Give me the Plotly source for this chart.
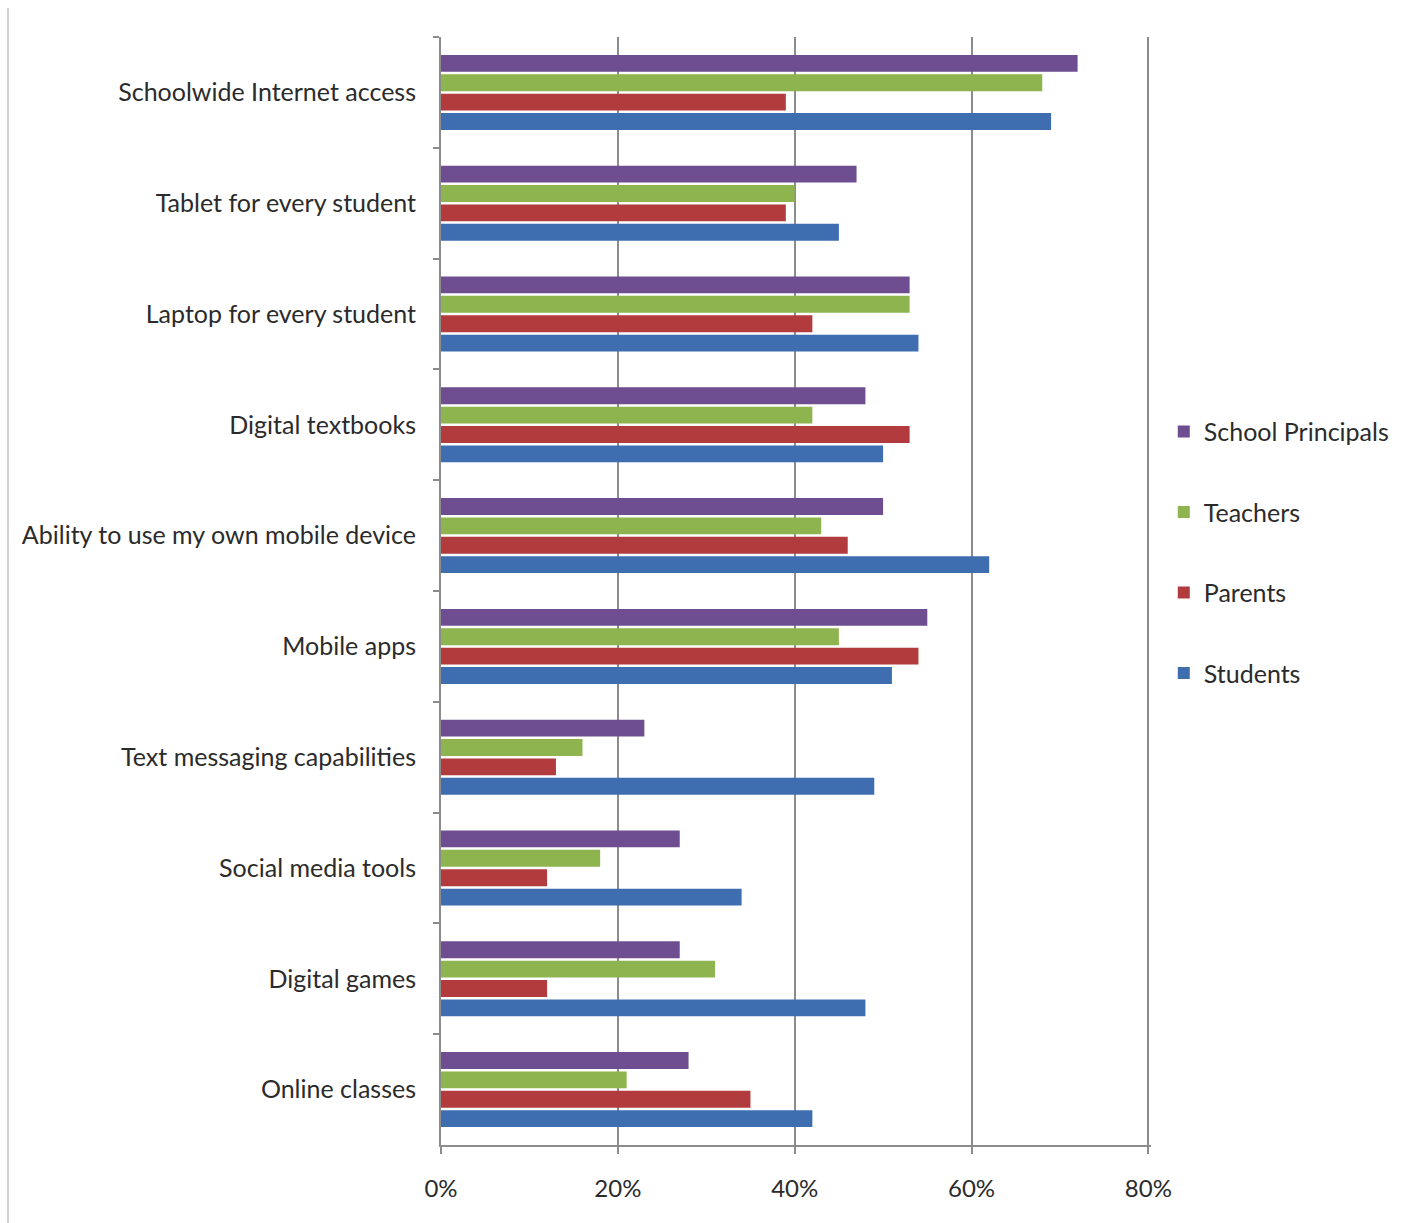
import plotly.graph_objects as go

categories = [
    "Schoolwide Internet access",
    "Tablet for every student",
    "Laptop for every student",
    "Digital textbooks",
    "Ability to use my own mobile device",
    "Mobile apps",
    "Text messaging capabilities",
    "Social media tools",
    "Digital games",
    "Online classes",
]

principals = [72, 47, 53, 48, 50, 55, 23, 27, 27, 28]
teachers = [68, 40, 53, 42, 43, 45, 16, 18, 31, 21]
parents = [39, 39, 42, 53, 46, 54, 13, 12, 12, 35]
students = [69, 45, 54, 50, 62, 51, 49, 34, 48, 42]

series_names = ["School Principals", "Teachers", "Parents", "Students"]
series_values = [principals, teachers, parents, students]
colors = ["#6E4E90", "#8DB44E", "#B23B3E", "#3E6EB0"]

FONT = "Lato"
TEXT = "#2b2b2b"

fig = go.Figure()
for name, vals, col in zip(series_names, series_values, colors):
    fig.add_trace(go.Bar(
        name=name,
        y=categories,
        x=[v / 100 for v in vals],
        orientation="h",
        marker=dict(color=col, line=dict(width=0)),
        legendgroup=name,
    ))

fig.update_layout(
    width=1408,
    height=1223,
    margin=dict(l=441, r=257, t=37, b=78, autoexpand=False),
    paper_bgcolor="white",
    plot_bgcolor="white",
    barmode="group",
    bargap=0.3,
    bargroupgap=0.13,
    font=dict(family=FONT, color=TEXT, size=24),
    legend=dict(
        x=1.018,
        xanchor="left",
        y=0.535,
        yanchor="middle",
        font=dict(family=FONT, size=25, color=TEXT),
        tracegroupgap=45,
        itemwidth=30,
        bgcolor="rgba(0,0,0,0)",
    ),
    xaxis=dict(
        range=[0, 0.803],
        dtick=0.2,
        tick0=0,
        tickformat=".0%",
        showgrid=True,
        gridcolor="#8c8c8c",
        gridwidth=1.5,
        zeroline=False,
        showline=True,
        linecolor="#8c8c8c",
        linewidth=2,
        ticks="outside",
        ticklen=7,
        tickcolor="#8c8c8c",
        tickwidth=2,
        ticklabelstandoff=14,
        tickfont=dict(family=FONT, size=24, color=TEXT),
    ),
    yaxis=dict(
        type="category",
        autorange="reversed",
        showline=True,
        linecolor="#8c8c8c",
        linewidth=2,
        ticks="outside",
        tickson="boundaries",
        ticklen=6,
        tickcolor="#8c8c8c",
        tickwidth=2,
        showgrid=False,
        ticklabelstandoff=18,
        tickfont=dict(family=FONT, size=25, color=TEXT),
    ),
    shapes=[
        dict(type="line", xref="paper", yref="paper",
             x0=(8 - 441) / 710, x1=(8 - 441) / 710,
             y0=-(1223 - 1145) / 1108, y1=1 + (37 - 8) / 1108,
             line=dict(color="#d0d0d0", width=2)),
    ],
)

fig.write_html("out.html")
